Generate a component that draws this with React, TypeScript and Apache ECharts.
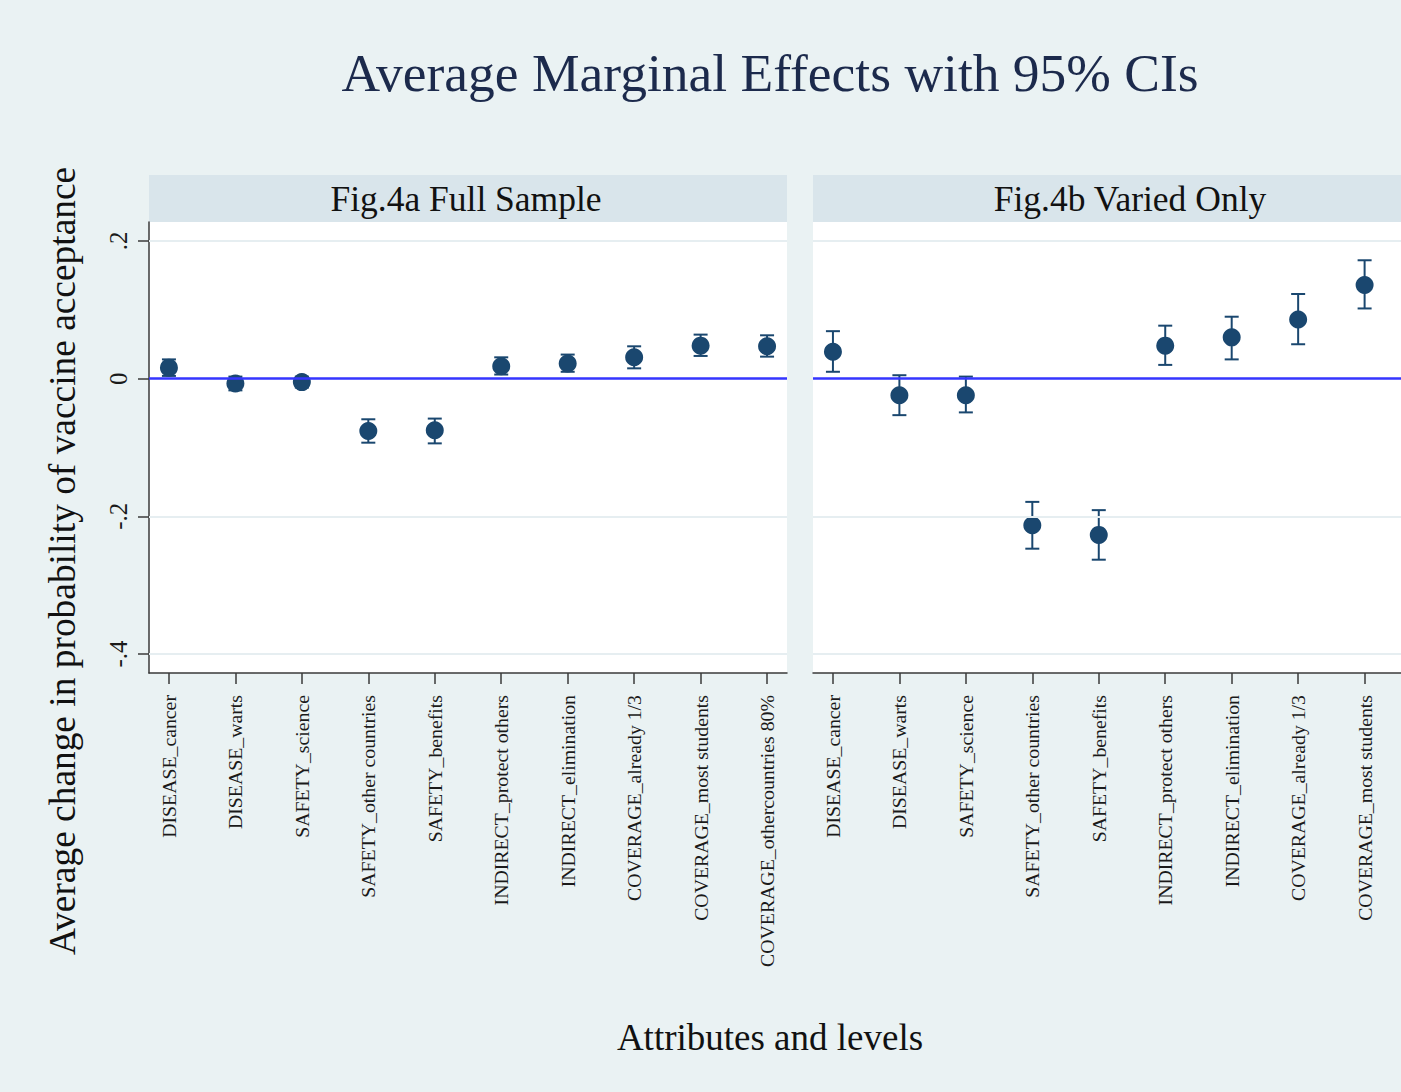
import React, { useEffect, useRef } from "react";
import * as echarts from "echarts";

// ---------- data ----------
const CATEGORIES_A = [
  "DISEASE_cancer",
  "DISEASE_warts",
  "SAFETY_science",
  "SAFETY_other countries",
  "SAFETY_benefits",
  "INDIRECT_protect others",
  "INDIRECT_elimination",
  "COVERAGE_already 1/3",
  "COVERAGE_most students",
  "COVERAGE_othercountries 80%",
];
const EST_A = [0.016, -0.007, -0.005, -0.076, -0.075, 0.018, 0.022, 0.031, 0.048, 0.047];
const LO_A = [0.004, -0.017, -0.013, -0.093, -0.094, 0.006, 0.010, 0.015, 0.033, 0.032];
const HI_A = [0.028, 0.003, 0.003, -0.059, -0.058, 0.031, 0.035, 0.047, 0.064, 0.063];

const CATEGORIES_B = [
  "DISEASE_cancer",
  "DISEASE_warts",
  "SAFETY_science",
  "SAFETY_other countries",
  "SAFETY_benefits",
  "INDIRECT_protect others",
  "INDIRECT_elimination",
  "COVERAGE_already 1/3",
  "COVERAGE_most students",
];
const EST_B = [0.039, -0.024, -0.024, -0.213, -0.227, 0.048, 0.060, 0.086, 0.136];
const LO_B = [0.010, -0.053, -0.049, -0.247, -0.263, 0.020, 0.028, 0.050, 0.102];
const HI_B = [0.069, 0.005, 0.003, -0.179, -0.191, 0.077, 0.090, 0.123, 0.172];

const Y_TICKS = [-0.4, -0.2, 0, 0.2];
const Y_TICK_LABELS = ["-.4", "-.2", "0", ".2"];
const GRID_VALUES = [0.2, -0.2, -0.4];

const TITLE = "Average Marginal Effects with 95% CIs";
const PANEL_TITLES = ["Fig.4a Full Sample", "Fig.4b Varied Only"];
const X_TITLE = "Attributes and levels";
const Y_TITLE = "Average change in probability of vaccine acceptance";

// ---------- style ----------
const FONT = '"Liberation Serif", "Times New Roman", serif';
const BG = "#eaf2f3";
const STRIP = "#d9e5eb";
const NAVY = "#1a476f";
const AXIS = "#3a3a3a";
const ZERO = "#3535ff";
const GRIDLINE = "#e6eef1";

const Y_MIN = -0.4276;
const Y_MAX = 0.2276;

const PANEL_W = 638;
const X_MIN = 0.7;
const X_MAX = 10.3;
const UNIT = PANEL_W / (X_MAX - X_MIN);
const CHART_W = 1401;

const PANELS = [
  { left: 149, cats: CATEGORIES_A, est: EST_A, lo: LO_A, hi: HI_A },
  { left: 813, cats: CATEGORIES_B, est: EST_B, lo: LO_B, hi: HI_B },
];
const PLOT_TOP = 222;
const PLOT_H = 451;

function buildOption() {
  const grid: any[] = [];
  const xAxis: any[] = [];
  const yAxis: any[] = [];
  const series: any[] = [];
  const graphic: any[] = [];

  PANELS.forEach((p, pi) => {
    const pos = p.cats.map((_, i) => i + 1);
    // the second panel is cropped at the right edge of the picture
    const visW = Math.min(PANEL_W, CHART_W - p.left);
    const xMax = X_MIN + visW / UNIT;
    grid.push({
      left: p.left,
      top: PLOT_TOP,
      width: visW,
      height: PLOT_H,
      show: true,
      backgroundColor: "#ffffff",
      borderWidth: 0,
    });
    xAxis.push({
      gridIndex: pi,
      type: "value",
      min: X_MIN,
      max: xMax,
      axisLine: { show: true, onZero: false, lineStyle: { color: AXIS, width: 1.5 } },
      axisTick: { show: true, length: 11, customValues: pos, lineStyle: { color: AXIS, width: 1.5 } },
      axisLabel: {
        show: true,
        rotate: 90,
        margin: 22,
        customValues: pos,
        formatter: (v: number) => p.cats[Math.round(v) - 1] ?? "",
        fontFamily: FONT,
        fontSize: 19.8,
        color: "#1a1a1a",
      },
      splitLine: { show: false },
    });
    yAxis.push({
      gridIndex: pi,
      type: "value",
      min: Y_MIN,
      max: Y_MAX,
      show: pi === 0,
      axisLine: { show: pi === 0, onZero: false, lineStyle: { color: AXIS, width: 1.5 } },
      axisTick: { show: pi === 0, length: 11, customValues: Y_TICKS, lineStyle: { color: AXIS, width: 1.5 } },
      axisLabel: {
        show: pi === 0,
        rotate: 90,
        margin: 18,
        customValues: Y_TICKS,
        formatter: (v: number) => {
          const k = Y_TICKS.findIndex((t) => Math.abs(t - v) < 1e-9);
          return k >= 0 ? Y_TICK_LABELS[k] : "";
        },
        fontFamily: FONT,
        fontSize: 25,
        color: "#1a1a1a",
      },
      splitLine: { show: false },
    });

    // reference lines
    series.push({
      type: "line",
      xAxisIndex: pi,
      yAxisIndex: pi,
      data: [],
      z: 1,
      silent: true,
      markLine: {
        silent: true,
        symbol: ["none", "none"],
        label: { show: false },
        animation: false,
        data: [
          ...GRID_VALUES.map((g) => ({ yAxis: g, lineStyle: { color: GRIDLINE, width: 2, type: "solid" } })),
          { yAxis: 0, lineStyle: { color: ZERO, width: 2.5, type: "solid" } },
        ],
      },
    });

    // CIs
    series.push({
      type: "custom",
      xAxisIndex: pi,
      yAxisIndex: pi,
      z: 2,
      silent: true,
      encode: { x: 0, y: [1, 2] },
      data: pos.map((x, i) => [x, p.lo[i], p.hi[i]]),
      renderItem: (params: any, api: any) => {
        const x = api.value(0);
        const a = api.coord([x, api.value(1)]);
        const b = api.coord([x, api.value(2)]);
        const cw = 7;
        const style = { stroke: NAVY, lineWidth: 2 };
        return {
          type: "group",
          children: [
            { type: "line", shape: { x1: a[0], y1: a[1], x2: b[0], y2: b[1] }, style },
            { type: "line", shape: { x1: a[0] - cw, y1: a[1], x2: a[0] + cw, y2: a[1] }, style },
            { type: "line", shape: { x1: b[0] - cw, y1: b[1], x2: b[0] + cw, y2: b[1] }, style },
          ],
        };
      },
    });

    // estimates
    series.push({
      type: "scatter",
      xAxisIndex: pi,
      yAxisIndex: pi,
      z: 3,
      symbol: "circle",
      symbolSize: 18,
      itemStyle: { color: NAVY, opacity: 1 },
      data: pos.map((x, i) => [x, p.est[i]]),
    });

    // strip header
    graphic.push({
      type: "rect",
      shape: { x: p.left, y: 175, width: PANEL_W, height: 47 },
      style: { fill: STRIP },
      silent: true,
    });
    graphic.push({
      type: "text",
      x: p.left + PANEL_W / 2 - 2,
      y: 199,
      style: {
        text: PANEL_TITLES[pi],
        fill: "#111111",
        font: `normal 35.5px ${FONT}`,
        textAlign: "center",
        textVerticalAlign: "middle",
      },
      silent: true,
    });
  });

  graphic.push({
    type: "text",
    x: 770,
    y: 73,
    style: {
      text: TITLE,
      fill: "#1c2a4c",
      font: `normal 53.5px ${FONT}`,
      textAlign: "center",
      textVerticalAlign: "middle",
    },
    silent: true,
  });
  graphic.push({
    type: "text",
    x: 770,
    y: 1037,
    style: {
      text: X_TITLE,
      fill: "#111111",
      font: `normal 37px ${FONT}`,
      textAlign: "center",
      textVerticalAlign: "middle",
    },
    silent: true,
  });
  graphic.push({
    type: "text",
    x: 62,
    y: 561,
    rotation: Math.PI / 2,
    style: {
      text: Y_TITLE,
      fill: "#111111",
      font: `normal 37.4px ${FONT}`,
      textAlign: "center",
      textVerticalAlign: "middle",
    },
    silent: true,
  });

  return {
    animation: false,
    backgroundColor: BG,
    grid,
    xAxis,
    yAxis,
    series,
    graphic,
  };
}

export default function App() {
  const ref = useRef<HTMLDivElement | null>(null);
  useEffect(() => {
    if (!ref.current) return;
    const chart = echarts.init(ref.current, undefined, { renderer: "svg" });
    chart.setOption(buildOption() as any);
    return () => chart.dispose();
  }, []);
  return (
    <div
      ref={ref}
      style={{ position: "absolute", left: 0, top: 0, width: 1401, height: 1092 }}
    />
  );
}
